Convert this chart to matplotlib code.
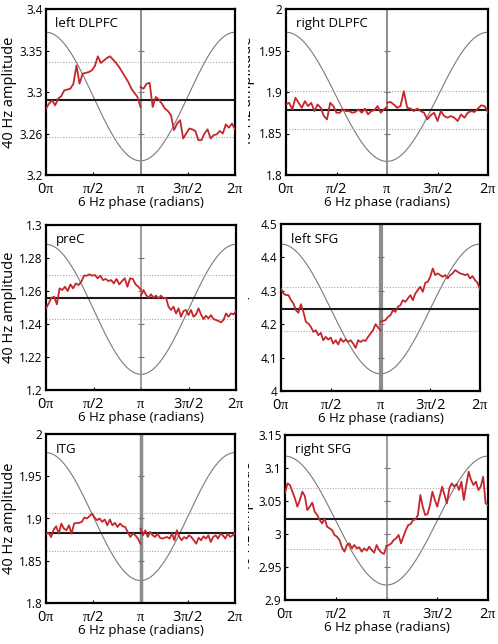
import numpy as np
import matplotlib
matplotlib.use("Agg")
import matplotlib.pyplot as plt
from matplotlib.transforms import Bbox

plt.rcParams['font.family'] = ['Open Sans', 'DejaVu Sans']
plt.rcParams['mathtext.fontset'] = 'custom'
plt.rcParams['mathtext.rm'] = 'Liberation Serif'
plt.rcParams['mathtext.it'] = 'Liberation Serif'

# ---------------- data ----------------
panel_names = ["left DLPFC", "right DLPFC", "preC", "left SFG", "ITG", "right SFG"]

xtick_labels = [r"0$\mathrm{\pi}$", r"$\mathrm{\pi}$/2", r"$\mathrm{\pi}$",
                r"3$\mathrm{\pi}$/2", r"2$\mathrm{\pi}$"]

# y ticks / labels per panel
ldlpfc_yticks = [3.2, 3.25, 3.3, 3.35, 3.4]
ldlpfc_ylabels = ["3.2", "3.26", "3.3", "3.35", "3.4"]
rdlpfc_yticks = [1.8, 1.85, 1.9, 1.95, 2.0]
rdlpfc_ylabels = ["1.8", "1.85", "1.9", "1.95", "2"]
prec_yticks = [1.2, 1.22, 1.24, 1.26, 1.28, 1.3]
prec_ylabels = ["1.2", "1.22", "1.24", "1.26", "1.28", "1.3"]
lsfg_yticks = [4.0, 4.1, 4.2, 4.3, 4.4, 4.5]
lsfg_ylabels = ["4", "4.1", "4.2", "4.3", "4.4", "4.5"]
itg_yticks = [1.8, 1.85, 1.9, 1.95, 2.0]
itg_ylabels = ["1.8", "1.85", "1.9", "1.95", "2"]
rsfg_yticks = [2.9, 2.95, 3.0, 3.05, 3.1, 3.15]
rsfg_ylabels = ["2.9", "2.95", "3", "3.05", "3.1", "3.15"]

# surrogate mean / bounds
surr_mean = [3.290, 1.878, 1.256, 4.246, 1.883, 3.023]
surr_upper = [3.336, 1.901, 1.2694, 4.312, 1.9067, 3.069]
surr_lower = [3.246, 1.855, 1.2432, 4.179, 1.861, 2.977]

# reference 6 Hz cosine: value at phase 0 and at phase pi
cos_top = [3.372, 1.972, 1.2883, 4.440, 1.978, 3.118]
cos_bottom = [3.217, 1.8164, 1.2095, 4.0515, 1.8266, 2.9227]

# 40 Hz amplitude, first half (0..pi) and second half (pi..2pi)
ldlpfc_a = [3.280, 3.286, 3.290, 3.284, 3.292, 3.295, 3.302, 3.303, 3.304, 3.310,
            3.332, 3.310, 3.322, 3.323, 3.324, 3.326, 3.331, 3.343, 3.335, 3.338,
            3.341, 3.343, 3.339, 3.335, 3.330, 3.324, 3.318, 3.312, 3.304, 3.299,
            3.294, 3.282]
ldlpfc_b = [3.306, 3.304, 3.310, 3.311, 3.282, 3.294, 3.291, 3.286, 3.280, 3.277,
            3.272, 3.254, 3.262, 3.266, 3.244, 3.250, 3.256, 3.255, 3.253, 3.242,
            3.242, 3.250, 3.255, 3.244, 3.248, 3.249, 3.253, 3.250, 3.261, 3.257,
            3.262, 3.255]

rdlpfc_a = [1.885, 1.887, 1.879, 1.893, 1.887, 1.881, 1.889, 1.883, 1.887, 1.877,
            1.885, 1.881, 1.871, 1.867, 1.887, 1.883, 1.875, 1.875, 1.879, 1.877,
            1.877, 1.875, 1.876, 1.879, 1.875, 1.880, 1.873, 1.877, 1.878, 1.883,
            1.875, 1.879, 1.882]
rdlpfc_b = [1.887, 1.888, 1.885, 1.881, 1.883, 1.901, 1.881, 1.880, 1.877, 1.880,
            1.877, 1.875, 1.867, 1.872, 1.875, 1.865, 1.877, 1.871, 1.869, 1.871,
            1.869, 1.865, 1.873, 1.869, 1.875, 1.877, 1.876, 1.880, 1.884, 1.883,
            1.875]

prec_a = [1.2495, 1.2525, 1.2559, 1.2565, 1.2519, 1.2616, 1.2606, 1.2626, 1.2600,
          1.2640, 1.2616, 1.2646, 1.2636, 1.2656, 1.2693, 1.2693, 1.2701, 1.2693,
          1.2697, 1.2677, 1.2693, 1.2666, 1.2673, 1.2660, 1.2666, 1.2646, 1.2673,
          1.2640, 1.2660, 1.2677, 1.2626, 1.2677, 1.2673, 1.2640, 1.2626, 1.2606]
prec_b = [1.2572, 1.2606, 1.2576, 1.2559, 1.2580, 1.2559, 1.2572, 1.2555, 1.2572,
          1.2555, 1.2559, 1.2505, 1.2485, 1.2505, 1.2464, 1.2495, 1.2444, 1.2479,
          1.2485, 1.2454, 1.2485, 1.2444, 1.2458, 1.2495, 1.2458, 1.2430, 1.2450,
          1.2434, 1.2454, 1.2430, 1.2424, 1.2418, 1.2410, 1.2424, 1.2464, 1.2444,
          1.2464, 1.2458, 1.2479]

lsfg_a = [4.307, 4.292, 4.287, 4.287, 4.272, 4.262, 4.242, 4.234, 4.260, 4.237,
          4.207, 4.202, 4.192, 4.177, 4.182, 4.167, 4.174, 4.152, 4.162, 4.154,
          4.160, 4.142, 4.152, 4.139, 4.157, 4.147, 4.154, 4.147, 4.152, 4.142,
          4.129, 4.152, 4.147, 4.152, 4.150, 4.162, 4.172, 4.182, 4.200, 4.190,
          4.182]
lsfg_b = [4.207, 4.210, 4.212, 4.222, 4.227, 4.242, 4.237, 4.252, 4.257, 4.272,
          4.267, 4.277, 4.287, 4.272, 4.292, 4.302, 4.312, 4.297, 4.324, 4.327,
          4.342, 4.367, 4.347, 4.352, 4.347, 4.342, 4.347, 4.337, 4.347, 4.352,
          4.362, 4.357, 4.352, 4.350, 4.347, 4.350, 4.337, 4.344, 4.332, 4.324,
          4.304]

itg_a = [1.8821, 1.8829, 1.8781, 1.8869, 1.8908, 1.8821, 1.8940, 1.8881, 1.8861,
         1.8920, 1.8821, 1.8940, 1.8948, 1.8948, 1.8960, 1.9012, 1.9000, 1.9027,
         1.9059, 1.9012, 1.8980, 1.9000, 1.8960, 1.8988, 1.8920, 1.8988, 1.8920,
         1.8948, 1.8900, 1.8940, 1.8908, 1.8900, 1.8841, 1.8781, 1.8821, 1.8801,
         1.8762, 1.8702]
itg_b = [1.8881, 1.8801, 1.8861, 1.8781, 1.8841, 1.8801, 1.8781, 1.8821, 1.8773,
         1.8762, 1.8773, 1.8781, 1.8762, 1.8821, 1.8742, 1.8861, 1.8781, 1.8742,
         1.8781, 1.8762, 1.8801, 1.8781, 1.8742, 1.8702, 1.8773, 1.8742, 1.8789,
         1.8762, 1.8801, 1.8722, 1.8781, 1.8801, 1.8762, 1.8821, 1.8801, 1.8762,
         1.8821, 1.8781, 1.8801, 1.8829]

rsfg_a = [3.0616, 3.0767, 3.0742, 3.0641, 3.0540, 3.0414, 3.0515, 3.0641, 3.0576,
          3.0363, 3.0414, 3.0475, 3.0338, 3.0288, 3.0212, 3.0161, 3.0237, 3.0111,
          3.0086, 3.0060, 2.9985, 2.9959, 2.9909, 2.9798, 2.9732, 2.9833, 2.9858,
          2.9783, 2.9833, 2.9783, 2.9798, 2.9732, 2.9783, 2.9747, 2.9808, 2.9757,
          2.9717, 2.9833, 2.9757, 2.9717, 2.9697, 2.9818]
rsfg_b = [2.9818, 2.9833, 2.9858, 2.9909, 2.9934, 2.9985, 2.9858, 2.9959, 3.0060,
          3.0136, 3.0151, 3.0212, 3.0222, 3.0288, 3.0591, 3.0414, 3.0288, 3.0303,
          3.0439, 3.0641, 3.0515, 3.0414, 3.0565, 3.0717, 3.0591, 3.0464, 3.0692,
          3.0767, 3.0717, 3.0757, 3.0666, 3.0793, 3.0515, 3.0742, 3.0944, 3.0818,
          3.0742, 3.0793, 3.0666, 3.0717, 3.0868, 3.0464, 3.0439]

first_halves = [ldlpfc_a, rdlpfc_a, prec_a, lsfg_a, itg_a, rsfg_a]
second_halves = [ldlpfc_b, rdlpfc_b, prec_b, lsfg_b, itg_b, rsfg_b]
yticks_all = [ldlpfc_yticks, rdlpfc_yticks, prec_yticks, lsfg_yticks, itg_yticks, rsfg_yticks]
ylabels_all = [ldlpfc_ylabels, rdlpfc_ylabels, prec_ylabels, lsfg_ylabels, itg_ylabels, rsfg_ylabels]

# ---------------- layout (pixels) ----------------
W, H = 498, 644
boxes = [(46, 9, 235, 175), (286, 9, 488, 175),
         (46, 225, 236, 390), (281, 224, 480, 391),
         (46, 434, 235, 603), (285, 435, 488, 600)]
pi_lw = [1.4, 1.4, 1.2, 3.0, 2.5, 1.2]

fig = plt.figure(figsize=(W / 100, H / 100), dpi=100)

red = '#c4262b'
for i in range(6):
    x0, y0, x1, y1 = boxes[i]
    ax = fig.add_axes([x0 / W, 1 - y1 / H, (x1 - x0) / W, (y1 - y0) / H])
    yt = yticks_all[i]
    ax.set_xlim(0, 2 * np.pi)
    ax.set_ylim(yt[0], yt[-1])

    phase = np.linspace(0, 2 * np.pi, 300)
    mid = (cos_top[i] + cos_bottom[i]) / 2
    amp = (cos_top[i] - cos_bottom[i]) / 2
    ax.plot(phase, mid + amp * np.cos(phase), color='#7a7a7a', lw=0.8, zorder=2)

    ax.axhline(surr_upper[i], color='#a8a8a8', lw=0.8, ls=(0, (1, 1.5)), zorder=2)
    ax.axhline(surr_lower[i], color='#a8a8a8', lw=0.8, ls=(0, (1, 1.5)), zorder=2)
    ax.axhline(surr_mean[i], color='#1a1a1a', lw=1.5, zorder=3)

    ax.axvline(np.pi, color='#8c8c8c', lw=pi_lw[i], zorder=2)
    ax.plot([np.pi] * len(yt), yt, ls='none', marker='_', ms=4, mew=0.8,
            color='#777777', zorder=2)

    a = first_halves[i]
    b = second_halves[i]
    ax.plot(np.linspace(0, np.pi, len(a)), a, color=red, lw=1.3, zorder=4)
    ax.plot(np.linspace(np.pi, 2 * np.pi, len(b)), b, color=red, lw=1.3, zorder=4)

    ax.set_xticks(np.linspace(0, 2 * np.pi, 5))
    ax.set_xticklabels(xtick_labels, fontsize=10.5)
    ax.set_yticks(yt)
    ax.set_yticklabels(ylabels_all[i], fontsize=8.5)
    ax.tick_params(direction='in', length=2.5, width=0.8, pad=2.5)
    ax.tick_params(axis='x', pad=5)
    for s in ax.spines.values():
        s.set_linewidth(1.6)

    ax.set_xlabel("6 Hz phase (radians)", fontsize=9.5)
    ax.xaxis.set_label_coords(0.5, -0.125)
    ax.set_ylabel("40 Hz amplitude", fontsize=10.5)
    ax.yaxis.set_label_coords(-0.155, 0.5)
    ax.text(0.05, 0.91, panel_names[i], transform=ax.transAxes, fontsize=9.5,
            ha='left', va='center')
    if i % 2 == 1:
        lab = ax.yaxis.label
        lab.set_clip_on(True)
        lab.set_clip_box(Bbox.from_extents(248, 0, W, H))

fig.savefig("out.png", dpi=100)
